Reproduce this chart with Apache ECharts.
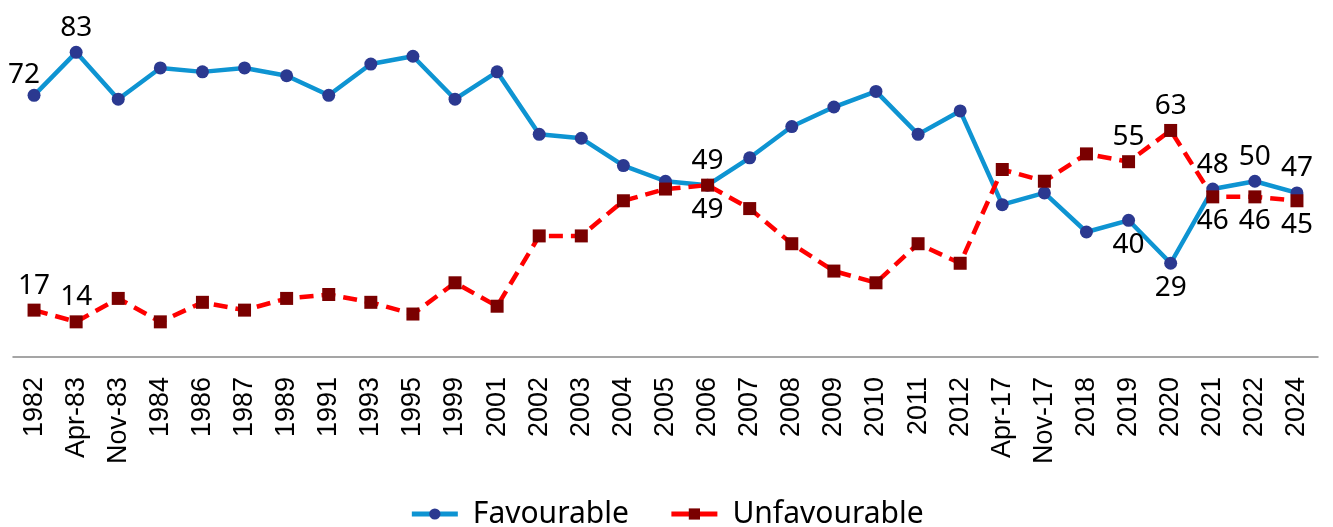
<!DOCTYPE html>
<html><head><meta charset="utf-8">
<script src="https://cdn.jsdelivr.net/npm/echarts@6/dist/echarts.min.js"></script>
<style>html,body{margin:0;padding:0;background:#fff}#c{width:1333px;height:527px}</style>
</head><body><div id="c"></div>
<script>
const categories = ['1982','Apr-83','Nov-83','1984','1986','1987','1989','1991','1993','1995','1999','2001','2002','2003','2004','2005','2006','2007','2008','2009','2010','2011','2012','Apr-17','Nov-17','2018','2019','2020','2021','2022','2024'];
const favourable = [72,83,71,79,78,79,77,72,80,82,71,78,62,61,54,50,49,56,64,69,73,62,68,44,47,37,40,29,48,50,47];
const unfavourable = [17,14,20,14,19,17,20,21,19,16,24,18,36,36,45,48,49,43,34,27,24,34,29,53,50,57,55,63,46,46,45];
// labelled points: [index, position]
const favLabels = [[0,'topLeft'],[1,'top'],[16,'top'],[26,'bottom'],[27,'bottom'],[28,'top'],[29,'top'],[30,'top']];
const unfLabels = [[0,'top'],[1,'top'],[16,'bottom'],[26,'top'],[27,'top'],[28,'bottom'],[29,'bottom'],[30,'bottom']];

const labelFont = {fontFamily:'Noto Sans', fontSize:28, color:'#000'};
function build(vals, labels){
  const m = new Map(labels);
  return vals.map((v,i)=>{
    if(!m.has(i)) return v;
    const p = m.get(i);
    const lab = Object.assign({show:true, distance:4}, labelFont);
    if(p==='topLeft'){ lab.position='top'; lab.offset=[-10,4]; }
    else lab.position=p;
    return {value:v, label:lab};
  });
}
const chart = echarts.init(document.getElementById('c'));
chart.setOption({
  animation:false,
  grid:{left:13,right:15,top:25,bottom:170,containLabel:false},
  legend:{top:494,left:'center',itemWidth:46,itemHeight:14,itemGap:40,
    textStyle:{fontFamily:'Noto Sans',fontSize:30,color:'#000',padding:[0,0,0,10]},
    data:[
      {name:'Favourable',lineStyle:{width:5,type:'solid',color:'#0e94d2'}},
      {name:'Unfavourable',lineStyle:{width:5,type:'solid',color:'#ff0000'}}
    ]},
  xAxis:{type:'category',data:categories,boundaryGap:true,
    axisLine:{lineStyle:{color:'#888',width:1.5}},axisTick:{show:false},
    axisLabel:{rotate:90,interval:0,margin:20,fontFamily:'Liberation Sans',fontSize:27,color:'#000'}},
  yAxis:{type:'value',min:5,max:90,show:false,splitLine:{show:false}},
  series:[
    {name:'Favourable',type:'line',data:build(favourable,favLabels),
      symbol:'circle',symbolSize:13,
      lineStyle:{color:'#0e94d2',width:4.5},
      itemStyle:{color:'#2b3990'},
      emphasis:{disabled:true}},
    {name:'Unfavourable',type:'line',data:build(unfavourable,unfLabels),
      symbol:'rect',symbolSize:13,
      lineStyle:{color:'#ff0000',width:4.5,type:[14,8]},
      itemStyle:{color:'#7a0000'},
      emphasis:{disabled:true}}
  ]
});
</script></body></html>
